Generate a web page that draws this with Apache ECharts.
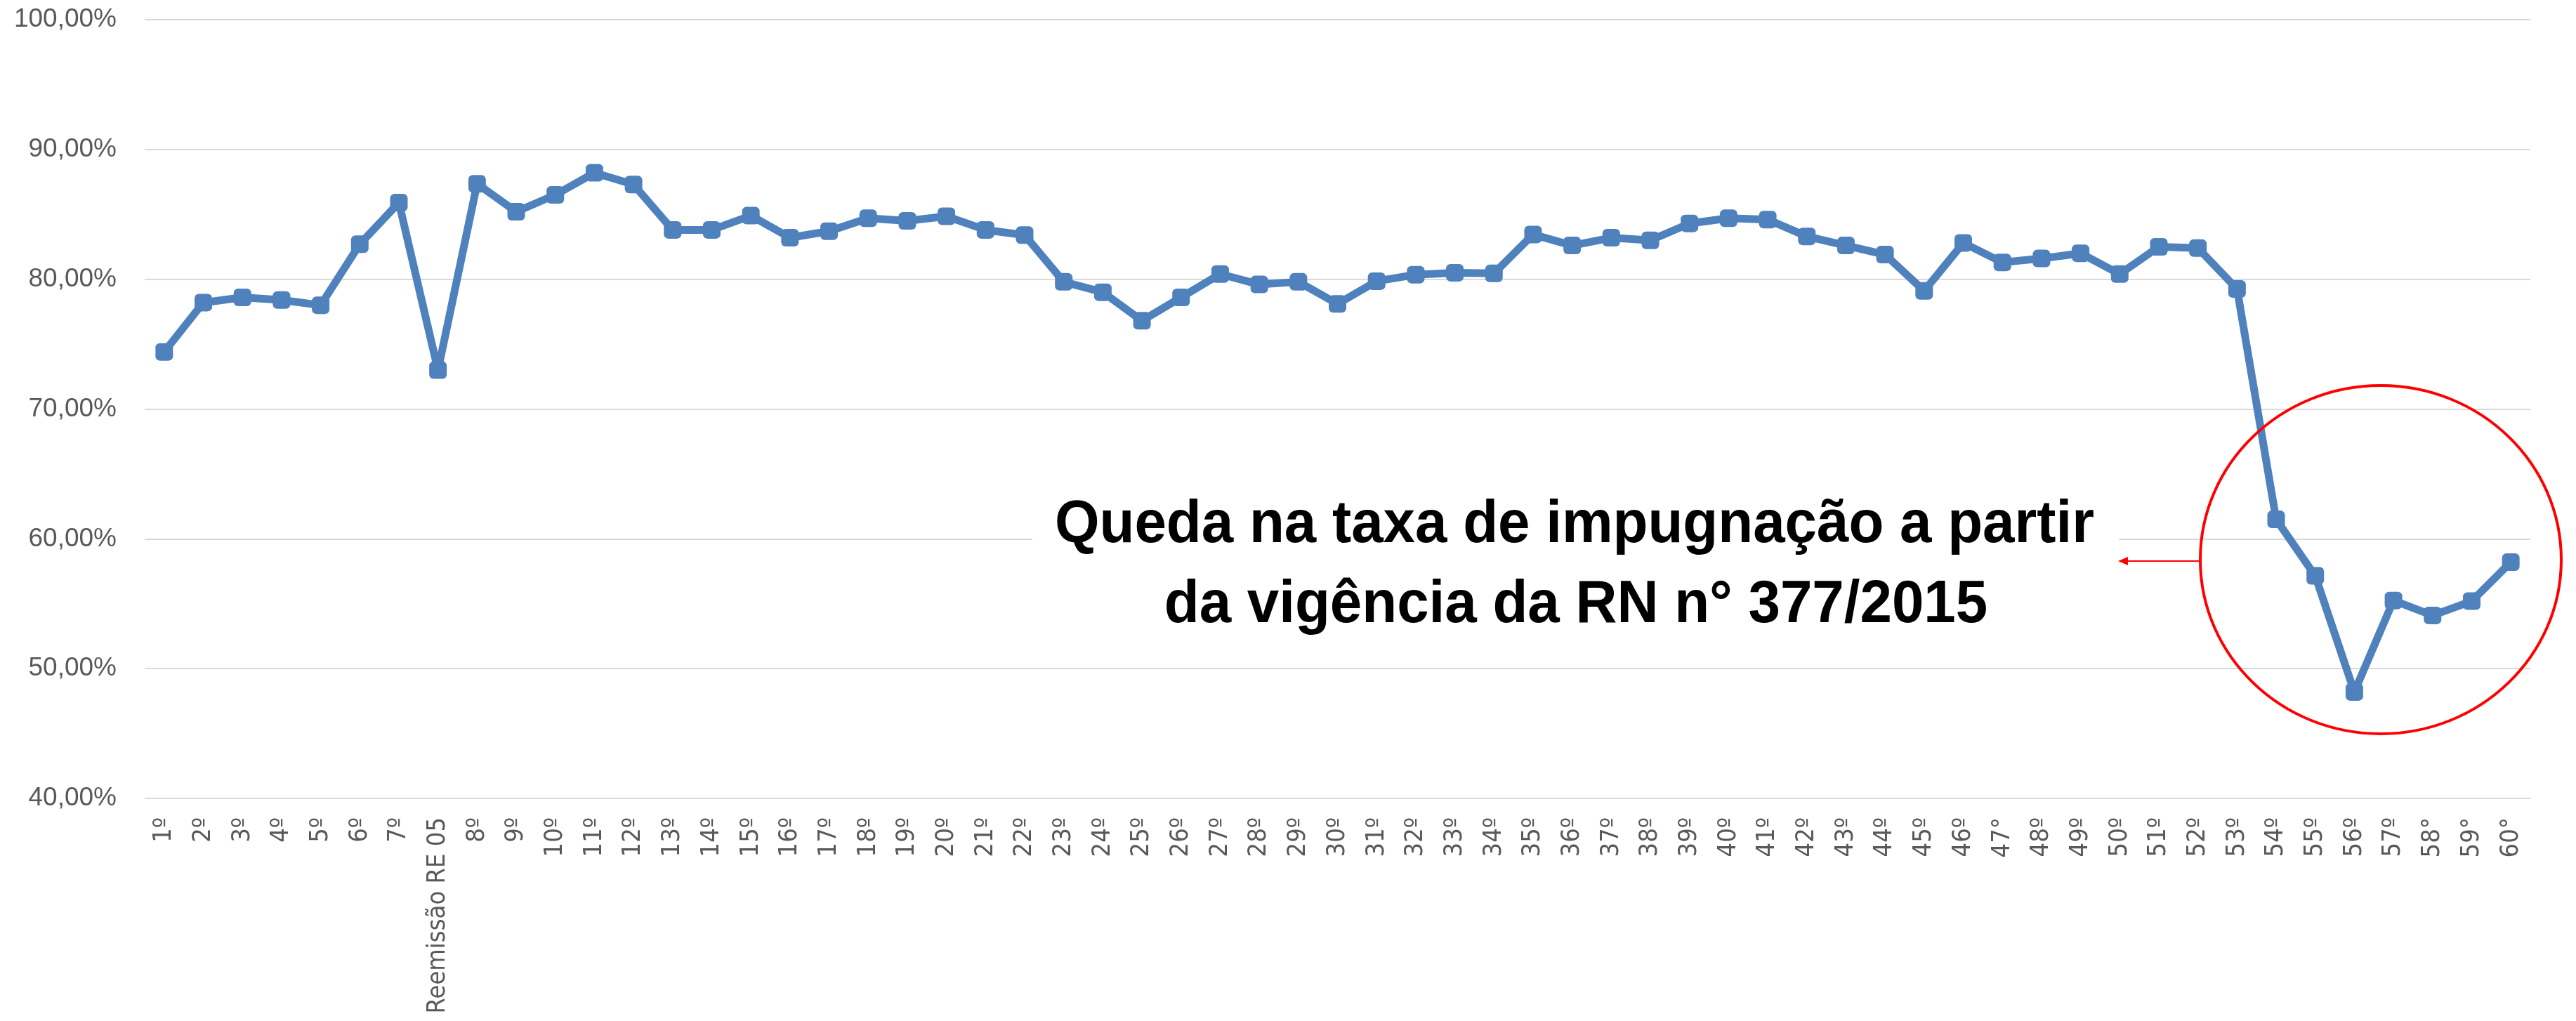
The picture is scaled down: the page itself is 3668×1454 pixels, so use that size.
<!DOCTYPE html>
<html>
<head>
<meta charset="utf-8">
<script src="https://cdn.jsdelivr.net/npm/echarts@6/dist/echarts.min.js"></script>
<style>
  html, body { margin: 0; padding: 0; background: #fff; }
  #chart { width: 3668px; height: 1454px; }
</style>
</head>
<body>
<div id="chart"></div>
<script>
// categorias (rodadas)
const categories = [
  '1º', '2º', '3º', '4º', '5º', '6º', '7º', 'Reemissão RE 05',
  '8º', '9º', '10º', '11º', '12º', '13º', '14º', '15º', '16º', '17º', '18º', '19º',
  '20º', '21º', '22º', '23º', '24º', '25º', '26º', '27º', '28º', '29º',
  '30º', '31º', '32º', '33º', '34º', '35º', '36º', '37º', '38º', '39º',
  '40º', '41º', '42º', '43º', '44º', '45º', '46º', '47°', '48º', '49º',
  '50º', '51º', '52º', '53º', '54º', '55º', '56º', '57º', '58°', '59°', '60°'
];

// taxa de impugnação (%)
const rates = [
  74.4, 78.2, 78.6, 78.4, 78.0, 82.7, 85.9, 73.0,
  87.35, 85.2, 86.5, 88.2, 87.3, 83.8, 83.8, 84.9, 83.2, 83.7, 84.7, 84.5,
  84.85, 83.8, 83.4, 79.8, 79.0, 76.8, 78.6, 80.4, 79.6, 79.8,
  78.1, 79.85, 80.35, 80.5, 80.45, 83.45, 82.6, 83.2, 83.0, 84.3,
  84.7, 84.6, 83.3, 82.6, 81.9, 79.1, 82.8, 81.3, 81.6, 82.0,
  80.4, 82.5, 82.4, 79.25, 61.5, 57.15, 48.2, 55.25, 54.1, 55.2, 58.2
];

const yTicks = { min: 40, max: 100, step: 10 };

const annotationLines = [
  'Queda na taxa de impugnação a partir',
  'da vigência da RN n° 377/2015'
];

const annotationFont = 'bold 86px "Liberation Sans", sans-serif';

const chart = echarts.init(document.getElementById('chart'));

const option = {
  backgroundColor: '#ffffff',
  animation: false,
  grid: {
    left: 206,
    right: 65,
    top: 28,
    bottom: 317
  },
  xAxis: {
    type: 'category',
    data: categories,
    boundaryGap: true,
    axisLine: { show: false },
    axisTick: { show: false },
    axisLabel: {
      rotate: 90,
      interval: 0,
      margin: 27,
      color: '#595959',
      fontFamily: '"DejaVu Sans Condensed", "DejaVu Sans"',
      fontSize: 36
    }
  },
  yAxis: {
    type: 'value',
    min: yTicks.min,
    max: yTicks.max,
    interval: yTicks.step,
    axisLine: { show: false },
    axisTick: { show: false },
    splitLine: { lineStyle: { color: '#d9d9d9', width: 2 } },
    axisLabel: {
      margin: 40,
      color: '#595959',
      fontFamily: 'Liberation Sans',
      fontSize: 37,
      formatter: function (v) {
        return v.toFixed(2).replace('.', ',') + '%';
      }
    }
  },
  series: [
    {
      type: 'line',
      data: rates,
      symbol: 'roundRect',
      symbolSize: 25,
      lineStyle: { color: '#4f81bd', width: 11 },
      itemStyle: { color: '#4f81bd' }
    }
  ],
  graphic: {
    elements: [
      // caixa branca atrás do texto (interrompe a linha de grade)
      {
        type: 'rect',
        z: 50,
        shape: { x: 1470, y: 680, width: 1547, height: 240 },
        style: { fill: '#ffffff' }
      },
      {
        type: 'text',
        z: 51,
        x: 2242,
        y: 748,
        scaleX: 0.95,
        style: {
          text: annotationLines[0],
          fill: '#000',
          font: annotationFont,
          textAlign: 'center',
          textVerticalAlign: 'middle'
        }
      },
      {
        type: 'text',
        z: 51,
        x: 2244,
        y: 862,
        scaleX: 0.95,
        style: {
          text: annotationLines[1],
          fill: '#000',
          font: annotationFont,
          textAlign: 'center',
          textVerticalAlign: 'middle'
        }
      },
      {
        type: 'ellipse',
        z: 51,
        shape: { cx: 3390, cy: 797, rx: 257, ry: 248 },
        style: { fill: null, stroke: '#ff0000', lineWidth: 4 }
      },
      {
        type: 'line',
        z: 51,
        shape: { x1: 3028, y1: 799, x2: 3133, y2: 799 },
        style: { stroke: '#ff0000', lineWidth: 2 }
      },
      {
        type: 'polygon',
        z: 51,
        shape: { points: [[3016, 799], [3030, 793], [3030, 805]] },
        style: { fill: '#ff0000' }
      }
    ]
  }
};

chart.setOption(option);
</script>
</body>
</html>
